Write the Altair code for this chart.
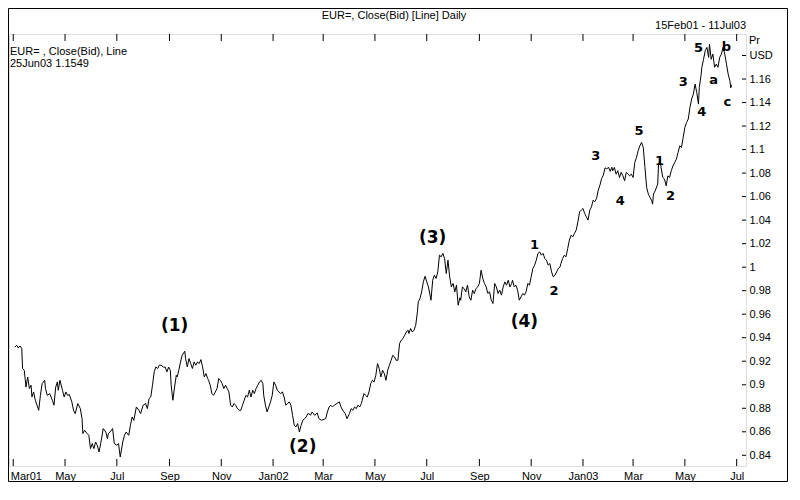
import altair as alt
import pandas as pd

# ---------------- data ----------------
START = "2001-03-01"  # day offsets below are counted from this date

day_offset = [
    2, 4, 6, 8, 10, 11, 13, 15, 17, 19, 21, 22, 24, 26, 30, 32, 34, 37, 38, 40,
    43, 46, 48, 50, 52, 53, 55, 58, 60, 62, 64, 66, 69, 71, 73, 76, 79, 81, 82, 84,
    87, 89, 91, 93, 95, 97, 99, 101, 103, 106, 109, 111, 112, 114, 117, 119, 122, 124, 126, 129,
    131, 133, 136, 138, 140, 142, 145, 148, 150, 153, 156, 158, 160, 162, 164, 166, 168, 170, 172, 174,
    177, 179, 181, 183, 185, 186, 188, 190, 192, 193, 195, 197, 199, 202, 203, 205, 207, 209, 211, 213,
    215, 217, 219, 221, 223, 225, 227, 229, 230, 232, 234, 236, 238, 240, 242, 244, 246, 248, 250, 252,
    254, 256, 258, 260, 262, 264, 266, 268, 270, 272, 274, 276, 278, 280, 282, 284, 286, 288, 290, 292,
    294, 295, 297, 299, 301, 303, 305, 307, 309, 311, 313, 315, 317, 319, 321, 323, 325, 327, 329, 331,
    333, 335, 337, 339, 341, 343, 345, 347, 349, 350, 352, 355, 358, 360, 363, 368, 370, 372, 374, 376,
    378, 381, 384, 386, 388, 391, 393, 396, 398, 400, 402, 404, 406, 408, 410, 411, 413, 415, 417, 419,
    421, 423, 425, 427, 429, 431, 433, 435, 437, 439, 441, 443, 445, 447, 449, 451, 453, 455, 457, 459,
    461, 463, 465, 466, 468, 470, 472, 474, 476, 477, 479, 481, 483, 485, 487, 489, 492, 494, 496, 498,
    500, 502, 504, 506, 508, 510, 512, 514, 516, 518, 520, 522, 524, 526, 527, 529, 531, 533, 535, 537,
    539, 541, 543, 545, 547, 549, 551, 553, 555, 557, 559, 561, 563, 565, 567, 569, 571, 573, 575, 577,
    579, 581, 583, 585, 587, 588, 590, 592, 594, 596, 598, 600, 602, 604, 606, 608, 610, 612, 614, 616,
    618, 620, 622, 624, 626, 628, 630, 632, 634, 636, 638, 640, 642, 644, 645, 647, 649, 651, 653, 655,
    657, 659, 661, 663, 665, 667, 669, 671, 673, 675, 677, 679, 681, 683, 685, 687, 689, 691, 693, 695,
    697, 699, 701, 703, 705, 706, 708, 710, 712, 714, 716, 718, 720, 722, 724, 726, 728, 730, 732, 734,
    736, 738, 740, 742, 744, 746, 748, 750, 752, 753, 754, 756, 759, 760, 762, 763, 765, 767, 769, 771,
    773, 775, 777, 779, 781, 783, 785, 787, 789, 791, 793, 795, 797, 799, 801, 803, 805, 807, 808, 810,
    811, 813, 815, 817, 819, 820, 822, 824, 826, 828, 830, 832, 834, 836, 838, 840, 842, 844, 845, 846,
]

close_bid = [
    0.9320, 0.9336, 0.9313, 0.9330, 0.9310, 0.9138, 0.9123, 0.8980, 0.9066, 0.8968, 0.8996, 0.8896, 0.8939, 0.8868, 0.8783, 0.8910, 0.9010, 0.9038, 0.8968, 0.8910,
    0.8925, 0.8868, 0.8826, 0.8980, 0.9024, 0.8953, 0.9038, 0.8953, 0.8896, 0.8939, 0.8910, 0.8917, 0.8854, 0.8783, 0.8755, 0.8840, 0.8797, 0.8712, 0.8585, 0.8613,
    0.8585, 0.8570, 0.8457, 0.8500, 0.8457, 0.8513, 0.8485, 0.8428, 0.8500, 0.8627, 0.8598, 0.8542, 0.8585, 0.8598, 0.8627, 0.8500, 0.8485, 0.8500, 0.8386, 0.8513,
    0.8570, 0.8598, 0.8570, 0.8655, 0.8726, 0.8698, 0.8811, 0.8783, 0.8755, 0.8826, 0.8840, 0.8797, 0.8883, 0.8896, 0.8996, 0.9110, 0.9152, 0.9138, 0.9166, 0.9166,
    0.9150, 0.9150, 0.9110, 0.9150, 0.9123, 0.8996, 0.8868, 0.8980, 0.9080, 0.9066, 0.9123, 0.9194, 0.9251, 0.9285, 0.9223, 0.9152, 0.9223, 0.9180, 0.9138, 0.9194,
    0.9166, 0.9194, 0.9180, 0.9214, 0.9152, 0.9066, 0.9095, 0.9053, 0.9038, 0.8996, 0.8925, 0.8910, 0.8939, 0.8968, 0.9053, 0.9038, 0.9010, 0.8968, 0.8996, 0.8968,
    0.8939, 0.8826, 0.8811, 0.8840, 0.8826, 0.8797, 0.8783, 0.8783, 0.8826, 0.8868, 0.8910, 0.8896, 0.8953, 0.8896, 0.8953, 0.8925, 0.8968, 0.8996, 0.9024, 0.9038,
    0.9010, 0.8910, 0.8826, 0.8769, 0.8811, 0.8854, 0.8910, 0.9024, 0.8996, 0.8953, 0.8939, 0.8925, 0.8939, 0.8896, 0.8826, 0.8840, 0.8854, 0.8826, 0.8740, 0.8655,
    0.8641, 0.8670, 0.8598, 0.8655, 0.8698, 0.8710, 0.8726, 0.8755, 0.8750, 0.8740, 0.8769, 0.8740, 0.8760, 0.8712, 0.8698, 0.8712, 0.8769, 0.8811, 0.8826, 0.8811,
    0.8826, 0.8840, 0.8854, 0.8811, 0.8783, 0.8755, 0.8712, 0.8755, 0.8797, 0.8783, 0.8811, 0.8797, 0.8826, 0.8811, 0.8840, 0.8868, 0.8925, 0.8910, 0.8896, 0.8939,
    0.9010, 0.9038, 0.9024, 0.9080, 0.9180, 0.9138, 0.9066, 0.9123, 0.9095, 0.9038, 0.9123, 0.9166, 0.9208, 0.9251, 0.9237, 0.9208, 0.9208, 0.9351, 0.9379, 0.9393,
    0.9421, 0.9449, 0.9464, 0.9436, 0.9478, 0.9449, 0.9464, 0.9506, 0.9620, 0.9705, 0.9733, 0.9790, 0.9875, 0.9923, 0.9875, 0.9832, 0.9719, 0.9889, 0.9932, 0.9904,
    0.9960, 1.0102, 1.0088, 1.0117, 1.0074, 0.9946, 1.0059, 0.9918, 0.9832, 0.9861, 0.9790, 0.9847, 0.9677, 0.9740, 0.9719, 0.9832, 0.9818, 0.9790, 0.9847, 0.9747,
    0.9719, 0.9804, 0.9776, 0.9818, 0.9832, 0.9861, 0.9974, 0.9904, 0.9861, 0.9832, 0.9776, 0.9790, 0.9719, 0.9691, 0.9861, 0.9832, 0.9776, 0.9804, 0.9762, 0.9832,
    0.9875, 0.9847, 0.9889, 0.9832, 0.9861, 0.9889, 0.9832, 0.9847, 0.9804, 0.9719, 0.9747, 0.9776, 0.9762, 0.9790, 0.9861, 0.9847, 0.9918, 0.9989, 1.0017, 1.0059,
    1.0117, 1.0130, 1.0102, 1.0117, 1.0074, 1.0059, 1.0017, 1.0031, 0.9960, 0.9918, 0.9932, 0.9960, 0.9989, 1.0002, 1.0031, 1.0074, 1.0102, 1.0088, 1.0159, 1.0230,
    1.0272, 1.0258, 1.0287, 1.0315, 1.0385, 1.0470, 1.0485, 1.0499, 1.0457, 1.0428, 1.0400, 1.0485, 1.0513, 1.0570, 1.0556, 1.0584, 1.0655, 1.0698, 1.0755, 1.0783,
    1.0845, 1.0835, 1.0850, 1.0815, 1.0850, 1.0820, 1.0848, 1.0791, 1.0820, 1.0763, 1.0806, 1.0777, 1.0735, 1.0806, 1.0791, 1.0777, 1.0791, 1.0763, 1.0890, 1.0933,
    1.0990, 1.1032, 1.1061, 1.1018, 1.0848, 1.0678, 1.0621, 1.0593, 1.0564, 1.0536, 1.0621, 1.0649, 1.0706, 1.0876, 1.0905, 1.0848, 1.0763, 1.0749, 1.0692, 1.0777,
    1.0763, 1.0820, 1.0862, 1.0890, 1.0919, 1.0976, 1.1032, 1.1018, 1.1103, 1.1188, 1.1231, 1.1260, 1.1359, 1.1430, 1.1472, 1.1557, 1.1486, 1.1387, 1.1529, 1.1628,
    1.1700, 1.1768, 1.1841, 1.1869, 1.1784, 1.1897, 1.1768, 1.1812, 1.1700, 1.1727, 1.1700, 1.1784, 1.1812, 1.1869, 1.1812, 1.1727, 1.1642, 1.1586, 1.1525, 1.1549,
]

tick_months = [
    "2001-03-01", "2001-05-01", "2001-07-01", "2001-09-01", "2001-11-01",
    "2002-01-01", "2002-03-01", "2002-05-01", "2002-07-01", "2002-09-01", "2002-11-01",
    "2003-01-01", "2003-03-01", "2003-05-01", "2003-07-01",
]
price_ticks = [0.84, 0.86, 0.88, 0.90, 0.92, 0.94, 0.96, 0.98, 1.00,
               1.02, 1.04, 1.06, 1.08, 1.10, 1.12, 1.14, 1.16, 1.18]

wave_big_text = ["(1)", "(2)", "(3)", "(4)"]
wave_big_dates = ["2001-09-07", "2002-02-05", "2002-07-08", "2002-10-24"]
wave_big_values = [0.9498, 0.8468, 1.0247, 0.9532]

wave_small_text = ["1", "2", "3", "4", "5", "1", "2", "3", "4", "5", "a", "b", "c"]
wave_small_dates = ["2002-11-05", "2002-11-28", "2003-01-16", "2003-02-14", "2003-03-08",
                    "2003-04-01", "2003-04-14", "2003-04-29", "2003-05-21", "2003-05-17",
                    "2003-06-04", "2003-06-19", "2003-06-20"]
wave_small_values = [1.0187, 0.9796, 1.0945, 1.0562, 1.1157, 1.0902, 1.0604, 1.1574,
                     1.1319, 1.1864, 1.1591, 1.1872, 1.1404]

title_text = "EUR=, Close(Bid) [Line] Daily"
range_text = "15Feb01 - 11Jul03"
legend_line1 = "EUR= , Close(Bid), Line"
legend_line2 = "25Jun03 1.1549"

# ---------------- tables ----------------
series = pd.DataFrame({
    "date": pd.Timestamp(START) + pd.to_timedelta(day_offset, unit="D"),
    "close": close_bid,
})
xticks_df = pd.DataFrame({"date": pd.to_datetime(tick_months)})
yticks_df = pd.DataFrame({"close": price_ticks})
big_df = pd.DataFrame({"date": pd.to_datetime(wave_big_dates), "close": wave_big_values, "t": wave_big_text})
small_df = pd.DataFrame({"date": pd.to_datetime(wave_small_dates), "close": wave_small_values, "t": wave_small_text})
one = pd.DataFrame({"k": [0]})

W, H = 737, 432
FONT = "Liberation Sans"
FIRST = "year(datum.value) == 2001 && month(datum.value) == 2"

x_enc = alt.X(
    "date:T",
    scale=alt.Scale(domain=[alt.DateTime(year=2001, month=2, date=24),
                            alt.DateTime(year=2003, month=7, date=12)]),
    axis=alt.Axis(
        values=[alt.DateTime(year=int(s[:4]), month=int(s[5:7]), date=1) for s in tick_months],
        labelExpr="(month(datum.value) == 0 || (" + FIRST + ")) ? timeFormat(datum.value, '%b%y') : timeFormat(datum.value, '%b')",
        labelAlign={"condition": {"test": FIRST, "value": "left"}, "value": "center"},
        labelOffset={"condition": {"test": FIRST, "value": -3}, "value": 0},
        ticks=False, domain=False, grid=False, title=None,
        labelPadding=4, labelFontSize=11, labelFont=FONT, labelColor="black",
        labelFlush=False, labelOverlap=False,
    ),
)
y_enc = alt.Y(
    "close:Q",
    scale=alt.Scale(domain=[0.8309, 1.1983], nice=False, zero=False),
    axis=alt.Axis(
        orient="right", values=price_ticks,
        labelExpr="datum.value > 1.17 ? 'USD' : format(datum.value, '.2~f')",
        ticks=False, domain=False, grid=False, title=None,
        labelPadding=3, labelAlign="left", labelBaseline="middle",
        labelFontSize=11, labelFont=FONT, labelColor="black",
        labelFlush=False, labelOverlap=False,
    ),
)

line = alt.Chart(series).mark_line(color="black", strokeWidth=1).encode(x=x_enc, y=y_enc)

top_ticks = alt.Chart(xticks_df).mark_rule(color="black", strokeWidth=1).encode(
    x=x_enc, y=alt.value(0), y2=alt.value(7))
bottom_ticks = alt.Chart(xticks_df).mark_rule(color="black", strokeWidth=1).encode(
    x=x_enc, y=alt.value(H - 7), y2=alt.value(H))
right_ticks = alt.Chart(yticks_df).mark_rule(color="black", strokeWidth=1).encode(
    y=y_enc, x=alt.value(W - 4), x2=alt.value(W))

big_labels = alt.Chart(big_df).mark_text(
    font="DejaVu Sans", fontWeight="bold", fontSize=17, color="black",
    align="center", baseline="middle").encode(x=x_enc, y=y_enc, text="t:N")
small_labels = alt.Chart(small_df).mark_text(
    font="DejaVu Sans", fontWeight="bold", fontSize=13, color="black",
    align="center", baseline="middle").encode(x=x_enc, y=y_enc, text="t:N")

def fixed_text(txt, x, y, align="left", size=11):
    return alt.Chart(one).mark_text(
        text=txt, font=FONT, fontSize=size, color="black", align=align, baseline="middle"
    ).encode(x=alt.value(x), y=alt.value(y))

texts = [
    fixed_text(title_text, 385, -18, "center"),
    fixed_text(range_text, W, -8, "right"),
    fixed_text(legend_line1, 1, 18),
    fixed_text(legend_line2, 1, 30),
    fixed_text("Pr", W + 3, 7),
]

frame = alt.Chart(one).mark_rect(fill="transparent", stroke="black", strokeWidth=1).encode(
    x=alt.value(-0.5), x2=alt.value(778.5), y=alt.value(-25.5), y2=alt.value(447.5))

chart = alt.layer(
    frame, line, top_ticks, bottom_ticks, right_ticks, big_labels, small_labels, *texts
).properties(
    width=W, height=H,
    autosize=alt.AutoSizeParams(type="none"),
    padding={"left": 1, "top": 26, "right": 42, "bottom": 18},
).configure_view(
    stroke="black", strokeWidth=1, fill="white"
).configure(background="white")

chart.save("out.html", embed_options={"renderer": "svg", "actions": False})
